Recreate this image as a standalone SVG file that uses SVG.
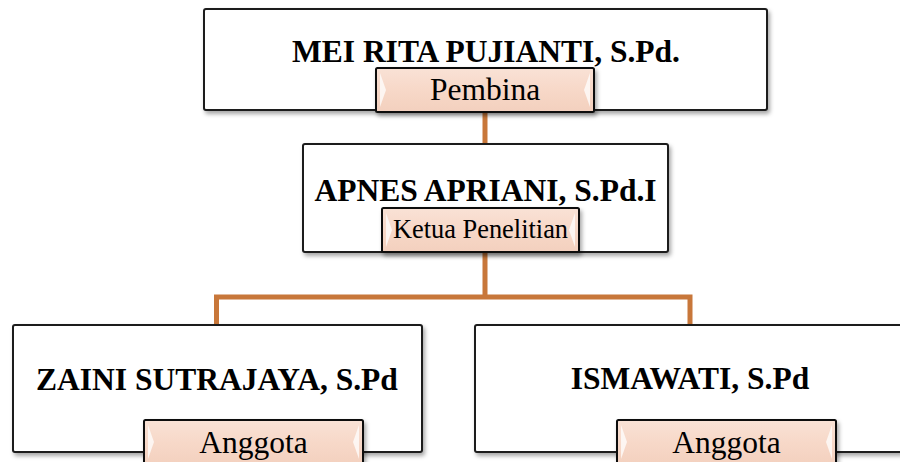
<svg xmlns="http://www.w3.org/2000/svg" width="900" height="462" viewBox="0 0 900 462">
<defs>
<filter id="sh" x="-10%" y="-10%" width="120%" height="130%">
<feDropShadow dx="2" dy="3" stdDeviation="2" flood-color="#000" flood-opacity="0.35"/>
</filter>
<linearGradient id="lg" x1="0" y1="0" x2="0" y2="1">
<stop offset="0" stop-color="#F9E2D6"/>
<stop offset="0.5" stop-color="#F7D8C8"/>
<stop offset="1" stop-color="#F3D0BE"/>
</linearGradient>
</defs>
<style>
.box{fill:#fff;stroke:#1a1a1a;stroke-width:2;filter:url(#sh)}
.lab{fill:url(#lg);stroke:#111;stroke-width:2;filter:url(#sh)}
.hl{fill:#fff;opacity:0.75}
.name{font-family:"Liberation Serif","Times New Roman",serif;font-weight:bold;font-size:31.5px;fill:#000;text-anchor:middle}
.role{font-family:"Liberation Serif","Times New Roman",serif;font-size:31.5px;fill:#000;text-anchor:middle}
.conn{fill:none;stroke:#C8773A;stroke-width:5}
</style>
<g id="connectors">
<path class="conn" d="M485 110 V146"/>
<path class="conn" d="M485 250 V297 M216.5 326 V297 H690 V326"/>
</g>
<g id="node-pembina">
<rect class="box" x="204" y="9" width="563" height="101" rx="2"/>
<text class="name" x="486" y="62">MEI RITA PUJIANTI, S.Pd.</text>
<rect class="lab" x="376" y="68" width="218" height="44" rx="1.5"/>
<polygon class="hl" points="380,73 386,90 380,107"/>
<polygon class="hl" points="590,73 584,90 590,107"/>
<text class="role" x="485" y="100">Pembina</text>
</g>
<g id="node-ketua">
<rect class="box" x="303" y="144" width="365" height="108" rx="2"/>
<text class="name" x="485.5" y="201">APNES APRIANI, S.Pd.I</text>
<rect class="lab" x="382" y="208" width="197" height="44" rx="1.5"/>
<polygon class="hl" points="386,213 392,230 386,247"/>
<polygon class="hl" points="575,213 569,230 575,247"/>
<text class="role" x="480.5" y="238" style="font-size:26.4px">Ketua Penelitian</text>
</g>
<g id="node-zaini">
<rect class="box" x="13" y="325" width="409" height="127" rx="2"/>
<text class="name" x="217" y="390">ZAINI SUTRAJAYA, S.Pd</text>
<rect class="lab" x="144" y="420" width="219" height="46" rx="1.5"/>
<polygon class="hl" points="148,425 154,442 148,459"/>
<polygon class="hl" points="359,425 353,442 359,459"/>
<text class="role" x="253.5" y="453">Anggota</text>
</g>
<g id="node-ismawati">
<rect class="box" x="475" y="325" width="430" height="127" rx="2"/>
<text class="name" x="690" y="389">ISMAWATI, S.Pd</text>
<rect class="lab" x="617" y="420" width="219" height="46" rx="1.5"/>
<polygon class="hl" points="621,425 627,442 621,459"/>
<polygon class="hl" points="832,425 826,442 832,459"/>
<text class="role" x="726.5" y="453">Anggota</text>
</g>
</svg>
